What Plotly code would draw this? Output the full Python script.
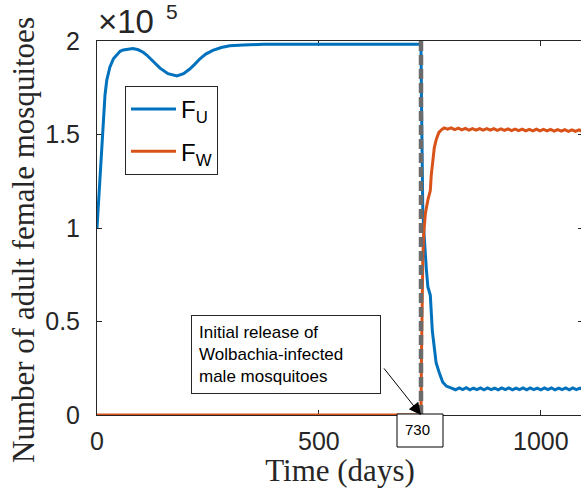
import plotly.graph_objects as go

# Simulated adult female mosquito populations (counts), uninfected (F_U) and Wolbachia-infected (F_W)
t_u = [0, 3, 7, 10.5, 14, 18, 22, 29, 37, 44, 52, 59, 70, 81, 93, 104, 112, 125, 142, 160,
       180, 195, 209, 220, 232, 245, 261, 280, 299, 330, 374, 450, 550, 650, 730,
       731, 732, 733, 734, 736, 738, 742, 745.5, 751, 755.5, 760, 764, 772, 779, 787, 794,
       800, 808, 816, 824, 832, 840, 848, 856, 864, 872, 880, 888, 896, 904, 912, 920, 928,
       936, 944, 952, 960, 968, 976, 984, 992, 1000, 1008, 1016, 1024, 1032, 1040, 1048,
       1056, 1064, 1072, 1080, 1088, 1096]
f_u = [100000, 112000, 127000, 147000, 161000, 171000, 179000, 186000, 190500, 192500,
       194500, 195200, 195800, 196000, 195300, 194000, 192500, 189500, 185500, 182500,
       181300, 182500, 185000, 187500, 190500, 193000, 195000, 196500, 197500, 197900,
       198200, 198300, 198300, 198300, 198300,
       170000, 142000, 120000, 110000, 100000, 90000, 78000, 68500, 64000, 45000, 34000,
       28000, 22000, 17500, 15500, 14800,
       14200, 13500, 14500, 13600, 14600, 13500, 14400, 13600, 14500, 13500, 14500, 13600,
       14400, 13500, 14500, 13600, 14500, 13500, 14400, 13600, 14500, 13500, 14500, 13600,
       14400, 13500, 14500, 13600, 14500, 13500, 14400, 13600, 14500, 13500, 14500, 13600,
       14400, 13500]

t_w = [0, 730, 731, 732, 733, 734, 736, 740, 745.5, 748, 751, 753, 757, 760, 764, 770, 776,
       782, 790, 798, 806, 814, 822, 830, 838, 846, 854, 862, 870, 878, 886, 894, 902, 910,
       918, 926, 934, 942, 950, 958, 966, 974, 982, 990, 998, 1006, 1014, 1022, 1030, 1038,
       1046, 1054, 1062, 1070, 1078, 1086, 1094]
f_w = [0, 0, 30000, 60000, 75000, 83000, 97000, 108000, 115000, 118000, 120000, 128000,
       138000, 143000, 147000, 151000, 152500, 153500, 152800, 153500, 152600, 153400,
       152500, 153300, 152400, 153200, 152400, 153200, 152300, 153100, 152300, 153100,
       152200, 153000, 152200, 153000, 152100, 152900, 152100, 152900, 152000, 152800,
       152000, 152800, 151900, 152700, 151900, 152700, 151800, 152600, 151800, 152600,
       151700, 152500, 151700, 152500, 151600]

release_day = 730
y_max = 200000
scale = 1e5

x_ticks = [0, 500, 1000]
y_ticks = [0, 0.5, 1, 1.5, 2]
y_tick_text = ["0", "0.5", "1", "1.5", "2"]

axis_color = "#262626"
sans = "Liberation Sans"
serif = "Liberation Serif"

fig = go.Figure()
fig.add_trace(go.Scatter(x=t_u, y=[v / scale for v in f_u], mode="lines", name="F<sub>U</sub>",
                         line=dict(color="#0072BD", width=3), legendgroup="u"))
fig.add_trace(go.Scatter(x=t_w, y=[v / scale for v in f_w], mode="lines", name="F<sub>W</sub>",
                         line=dict(color="#D95319", width=3), legendgroup="w"))
fig.add_trace(go.Scatter(x=[release_day, release_day], y=[0, y_max / scale], mode="lines",
                         showlegend=False, line=dict(color="#6b6b6b", width=4.5, dash="10px,4px")))

fig.update_xaxes(range=[0, 1095], tickvals=x_ticks, ticks="inside", ticklen=5, tickcolor=axis_color,
                 showline=True, linecolor=axis_color, linewidth=1, mirror="ticks", showgrid=False,
                 zeroline=False, layer="below traces", ticklabelstandoff=4,
                 tickfont=dict(family=sans, size=25, color=axis_color),
                 title=dict(text="Time (days)", font=dict(family=serif, size=31, color=axis_color),
                            standoff=5))
fig.update_yaxes(range=[0, 2], tickvals=y_ticks, ticktext=y_tick_text, ticks="inside", ticklen=5,
                 tickcolor=axis_color, showline=True, linecolor=axis_color, linewidth=1,
                 mirror="ticks", showgrid=False, zeroline=False, layer="below traces",
                 ticklabelstandoff=11,
                 tickfont=dict(family=sans, size=25, color=axis_color))

# y-axis title, placed as a rotated label left of the tick labels
fig.add_annotation(xref="paper", yref="paper", x=0, y=0.5, xanchor="center", yanchor="middle",
                   xshift=-74, yshift=-12, textangle=-90, showarrow=False,
                   text="Number of adult female mosquitoes",
                   font=dict(family=serif, size=31, color=axis_color))

# axis multiplier: ×10 with a raised 5
fig.add_annotation(xref="paper", yref="paper", x=0, y=1, xanchor="left", yanchor="bottom",
                   text="×10", showarrow=False, xshift=0, yshift=0, borderpad=0,
                   font=dict(family=sans, size=33, color=axis_color))
fig.add_annotation(xref="paper", yref="paper", x=0, y=1, xanchor="left", yanchor="bottom",
                   text="5", showarrow=False, xshift=68, yshift=17, borderpad=0,
                   font=dict(family=sans, size=21, color=axis_color))

# release note box and its arrow
fig.add_annotation(xref="x", yref="y", x=211, y=0.535, xanchor="left", yanchor="top",
                   text="Initial release of<br>Wolbachia-infected<br>male mosquitoes",
                   showarrow=False, align="left", width=174, borderpad=7,
                   bordercolor=axis_color, borderwidth=1, bgcolor="white",
                   font=dict(family=sans, size=17, color="black"))
fig.add_annotation(xref="x", yref="y", x=release_day, y=0, axref="x", ayref="y",
                   ax=644, ay=0.257, text="", showarrow=True, arrowhead=2, arrowsize=2.4,
                   arrowwidth=1, arrowcolor="black", standoff=0)

# "730" tag box under the axis
fig.add_shape(type="rect", xref="x", yref="paper", xsizemode="pixel", ysizemode="pixel",
              xanchor=release_day, yanchor=0, x0=-24, x1=22, y0=-32, y1=1,
              line=dict(color="black", width=1), fillcolor="white", layer="above")
fig.add_annotation(xref="x", yref="paper", x=release_day, y=0, xanchor="left", yanchor="top",
                   text=str(release_day), showarrow=False, xshift=-17, yshift=-5, borderpad=0,
                   font=dict(family=sans, size=15, color="black"))

fig.update_layout(
    width=583, height=488,
    margin=dict(l=97, r=0, t=41, b=73),
    paper_bgcolor="white", plot_bgcolor="white",
    showlegend=True,
    legend=dict(x=0.0576, y=0.8797, xanchor="left", yanchor="top", bgcolor="white",
                bordercolor=axis_color, borderwidth=1, tracegroupgap=8, itemwidth=45,
                font=dict(family=sans, size=24, color="black")),
)

fig.write_html("out.html", post_script="document.documentElement.style.overflow='hidden';"
                                       "document.body.style.overflow='hidden';")
